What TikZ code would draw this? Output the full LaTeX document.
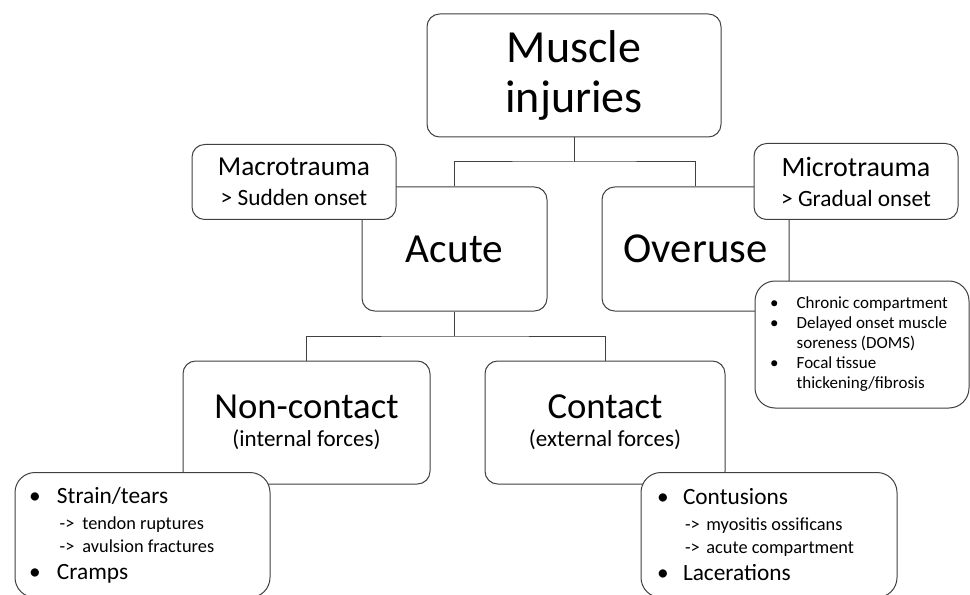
\documentclass[tikz,border=0pt]{standalone}
\usepackage{fontspec}
\setmainfont{Carlito}
\usetikzlibrary{positioning}

\newcommand{\fsz}[2]{\fontsize{#1pt}{#2pt}\selectfont}
\newcommand{\bul}[2]{\makebox[#1][l]{\textbullet}#2}

\tikzset{
	box/.style={draw=black!75, line width=0.75pt, fill=white, rounded corners=9.5pt,
		inner sep=0pt, align=center},
	listbox/.style={box, rounded corners=15pt, align=flush left, inner ysep=0pt},
	link/.style={draw=black!75, line width=0.75pt},
}

\begin{document}
\begin{tikzpicture}[x=0.75pt,y=-0.75pt]
	\useasboundingbox (0,0) rectangle (970,595);

	\node[box, minimum width=220.5pt, minimum height=92.25pt, font=\fsz{34.5}{38}] (top) at (574,75.5)
		{Muscle\\injuries};

	\node[box, minimum width=138.75pt, minimum height=93pt, font=\fsz{31}{36}] (acute) at (454.5,249)
		{Acute};
	\node[box, minimum width=140.25pt, minimum height=93pt, font=\fsz{32}{36}] (overuse) at (695.5,249)
		{Overuse};

	\node[box, minimum width=153pt, minimum height=56.25pt, font=\fsz{20.5}{22.5}] (macro) at (294,182)
		{Macrotrauma\\\fsz{17.5}{22.5}> Sudden onset};
	\node[box, minimum width=153pt, minimum height=57pt, font=\fsz{21}{22.5}] (micro) at (856,181.5)
		{Microtrauma\\\fsz{17.5}{22.5}> Gradual onset};

	\node[listbox, inner xsep=11.25pt, text width=138pt, minimum height=95.25pt, font=\fsz{12.75}{15}] (overlist) at (862,344.5)
		{\bul{20pt}{Chronic compartment}\\
		\bul{20pt}{Delayed onset muscle}\\
		\hspace*{20pt}soreness (DOMS)\\
		\bul{20pt}{Focal tissue}\\
		\hspace*{20pt}thickening/fibrosis\par};

	\node[box, minimum width=185.25pt, minimum height=92.25pt, font=\fsz{27.5}{21}] (noncontact) at (306.5,422.5)
		{Non-contact\\\fsz{17.25}{21}(internal forces)};
	\node[box, minimum width=180pt, minimum height=92.25pt, font=\fsz{27.5}{21}] (contact) at (605,422.5)
		{Contact\\\fsz{17.25}{21}(external forces)};

	\node[listbox, inner xsep=10.5pt, text width=170.25pt, minimum height=93.75pt, font=\fsz{17.5}{20}] (strainlist) at (142.5,535)
		{\bul{21pt}{Strain/tears}\\[2.25pt]
		\fsz{13.75}{17.25}\hspace*{23pt}->\hspace{6pt}tendon ruptures\\
		\hspace*{23pt}->\hspace{6pt}avulsion fractures\\
		\fsz{17.5}{20.25}\bul{21pt}{Cramps}\par};
	\node[listbox, inner xsep=12pt, text width=168pt, minimum height=93.75pt, font=\fsz{17.5}{20}] (contlist) at (769,535)
		{\bul{19.5pt}{Contusions}\\[2.25pt]
		\fsz{13.75}{17.25}\hspace*{21pt}->\hspace{5pt}myositis ossificans\\
		\hspace*{21pt}->\hspace{5pt}acute compartment\\
		\fsz{17.5}{20.25}\bul{19.5pt}{Lacerations}\par};

	% tree links
	\coordinate (split1) at (574,162);
	\coordinate (split2) at (454.5,336);
	\draw[link] (top.south) -- (split1);
	\draw[link] (acute.north) |- (split1) -| (overuse.north);
	\draw[link] (acute.south) -- (split2);
	\draw[link] (noncontact.north) |- (split2) -| (contact.north);
\end{tikzpicture}
\end{document}
